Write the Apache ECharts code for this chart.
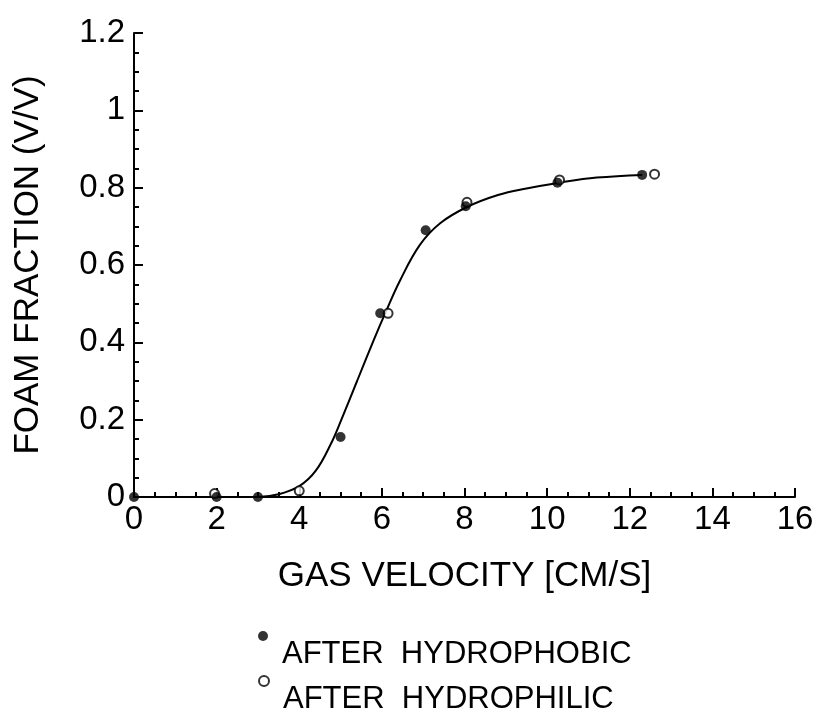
<!DOCTYPE html>
<html>
<head>
<meta charset="utf-8">
<script src="https://cdn.jsdelivr.net/npm/echarts@6/dist/echarts.min.js"></script>
<style>
  html, body { margin: 0; padding: 0; background: #fff; }
  #foam { width: 823px; height: 715px; }
</style>
</head>
<body>
<div id="foam"></div>
<script>
// points
const hydrophobic = [
  [0, 0], [2, 0], [3, 0], [5, 0.155], [5.96, 0.475], [7.06, 0.69],
  [8.03, 0.752], [10.25, 0.813], [12.3, 0.833]
]
const hydrophilic = [
  [1.95, 0.009], [4.0, 0.016], [6.15, 0.475], [8.06, 0.762],
  [10.3, 0.82], [12.6, 0.835]
]
// fitted curve, traced
const fitCurve = [
  [0, 0], [2, 0], [3, 0], [3.5, 0.007], [4, 0.028], [4.4, 0.068],
  [4.8, 0.145], [5.0, 0.195], [5.4, 0.3], [5.8, 0.405], [6.1, 0.48],
  [6.44, 0.56], [6.92, 0.652], [7.41, 0.708], [8.06, 0.75], [8.81, 0.781],
  [9.5, 0.798], [10.3, 0.813], [11.2, 0.826], [12.3, 0.833]
]
const legendNames = ['AFTER  HYDROPHOBIC', 'AFTER  HYDROPHILIC']

let myChart = echarts.init(document.getElementById('foam'))
const font = 'Liberation Sans'
const axisCommon = {
  axisLine: { lineStyle: { color: '#000', width: 2 } },
  axisTick: { inside: true, length: 9, lineStyle: { color: '#000', width: 2 } },
  minorTick: { show: true, splitNumber: 4, length: 5, lineStyle: { color: '#000', width: 2 } },
  splitLine: { show: false },
  axisLabel: { color: '#000', fontSize: 33, fontFamily: font },
  nameTextStyle: { color: '#000', fontSize: 35, fontFamily: font }
}

// one legend per entry so the raised marker sits where the original has it
function legendAt(name, top) {
  return {
    data: [name],
    left: 253,
    top: top,
    itemWidth: 10,
    itemHeight: 10,
    formatter: '{a|{name}}',
    textStyle: {
      color: '#000',
      fontFamily: font,
      rich: { a: { fontSize: 31, fontFamily: font, color: '#000', padding: [36, 0, 0, 9] } }
    }
  }
}

myChart.setOption({
  animation: false,
  backgroundColor: '#fff',
  grid: { left: 134, right: 28, top: 33, bottom: 218 },
  legend: [legendAt(legendNames[0], 626), legendAt(legendNames[1], 670)],
  xAxis: Object.assign({}, axisCommon, {
    type: 'value',
    min: 0,
    max: 16,
    interval: 2,
    name: 'GAS VELOCITY [CM/S]',
    nameLocation: 'middle',
    nameGap: 62,
    axisLabel: Object.assign({}, axisCommon.axisLabel, { margin: 6 })
  }),
  yAxis: Object.assign({}, axisCommon, {
    type: 'value',
    min: 0,
    max: 1.2,
    interval: 0.2,
    name: 'FOAM FRACTION (V/V)',
    nameLocation: 'middle',
    nameGap: 88,
    axisLabel: Object.assign({}, axisCommon.axisLabel, { margin: 9 })
  }),
  series: [
    {
      type: 'line',
      data: fitCurve,
      smooth: 0.4,
      showSymbol: false,
      lineStyle: { color: '#000', width: 2 },
      z: 1
    },
    {
      name: legendNames[0],
      type: 'scatter',
      data: hydrophobic,
      symbol: 'circle',
      symbolSize: 10,
      itemStyle: { color: '#000' },
      z: 3
    },
    {
      name: legendNames[1],
      type: 'scatter',
      data: hydrophilic,
      symbol: 'emptyCircle',
      symbolSize: 9,
      itemStyle: { color: '#000', borderColor: '#000', borderWidth: 2 },
      z: 2
    }
  ]
})
</script>
</body>
</html>
